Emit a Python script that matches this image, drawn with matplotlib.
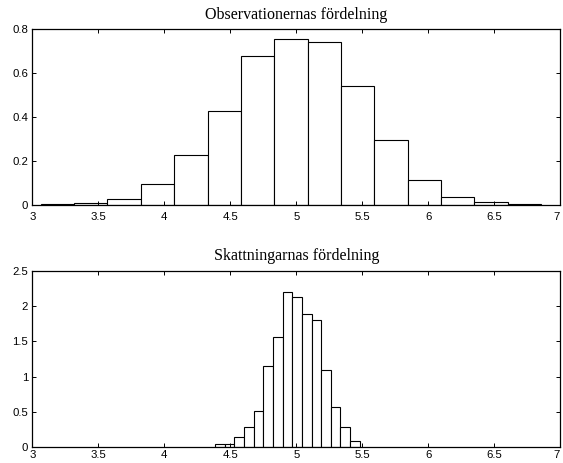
import numpy as np
import matplotlib
matplotlib.use("Agg")
import matplotlib.pyplot as plt

# ---- data ----
top_title = "Observationernas fördelning"
bottom_title = "Skattningarnas fördelning"

top_edge_first, top_edge_last = 3.064, 6.854
top_heights = [0.0045, 0.0105, 0.029, 0.095, 0.229, 0.429, 0.680, 0.757,
               0.744, 0.544, 0.295, 0.114, 0.039, 0.0136, 0.0045]

bot_edge_first, bot_edge_last = 4.384, 5.481
bot_heights = [0.045, 0.045, 0.135, 0.278, 0.508, 1.145, 1.567, 2.21,
               2.137, 1.89, 1.80, 1.088, 0.566, 0.28, 0.085]

x_ticks = [3, 3.5, 4, 4.5, 5, 5.5, 6, 6.5, 7]
x_ticklabels = ["3", "3.5", "4", "4.5", "5", "5.5", "6", "6.5", "7"]
top_yticks = [0, 0.2, 0.4, 0.6, 0.8]
top_yticklabels = ["0", "0.2", "0.4", "0.6", "0.8"]
bot_yticks = [0, 0.5, 1, 1.5, 2, 2.5]
bot_yticklabels = ["0", "0.5", "1", "1.5", "2", "2.5"]

# ---- figure ----
W, H = 563, 463
fig = plt.figure(figsize=(W / 100, H / 100), dpi=100)

def frac(l, t, r, b):
    return [l / W, 1 - b / H, (r - l) / W, (b - t) / H]

ax1 = fig.add_axes(frac(32.3, 29.3, 560.3, 205.3))
ax2 = fig.add_axes(frac(32.3, 271.3, 560.3, 446.7))

tick_font = dict(family=["Liberation Sans", "DejaVu Sans"], size=8.2)
title_font = dict(family=["Liberation Serif", "DejaVu Serif"], size=11.5)

def draw(ax, first, last, heights, yticks, yticklabels, ylim, title, pad,
         xpad):
    edges = np.linspace(first, last, len(heights) + 1)
    widths = np.diff(edges)
    ax.bar(edges[:-1], heights, width=widths, align="edge",
           facecolor="white", edgecolor="black", linewidth=0.8)
    ax.set_xlim(3, 7)
    ax.set_ylim(*ylim)
    ax.set_xticks(x_ticks)
    ax.set_xticklabels(x_ticklabels, **tick_font)
    ax.set_yticks(yticks)
    ax.set_yticklabels(yticklabels, **tick_font)
    ax.tick_params(axis="both", direction="in", length=3, width=0.7,
                   top=True, right=True, color="black")
    ax.tick_params(axis="x", pad=xpad)
    ax.tick_params(axis="y", pad=3)
    for s in ax.spines.values():
        s.set_linewidth(0.9)
        s.set_color("black")
    ax.set_title(title, pad=pad, **title_font)

draw(ax1, top_edge_first, top_edge_last, top_heights, top_yticks,
     top_yticklabels, (0, 0.8), top_title, 7.5, 4.5)
draw(ax2, bot_edge_first, bot_edge_last, bot_heights, bot_yticks,
     bot_yticklabels, (0, 2.5), bottom_title, 8.0, 2.5)

# keep the last x tick label inside the canvas
for ax in (ax1, ax2):
    ax.get_xticklabels()[-1].set_horizontalalignment("right")

fig.savefig("out.png", dpi=100)
